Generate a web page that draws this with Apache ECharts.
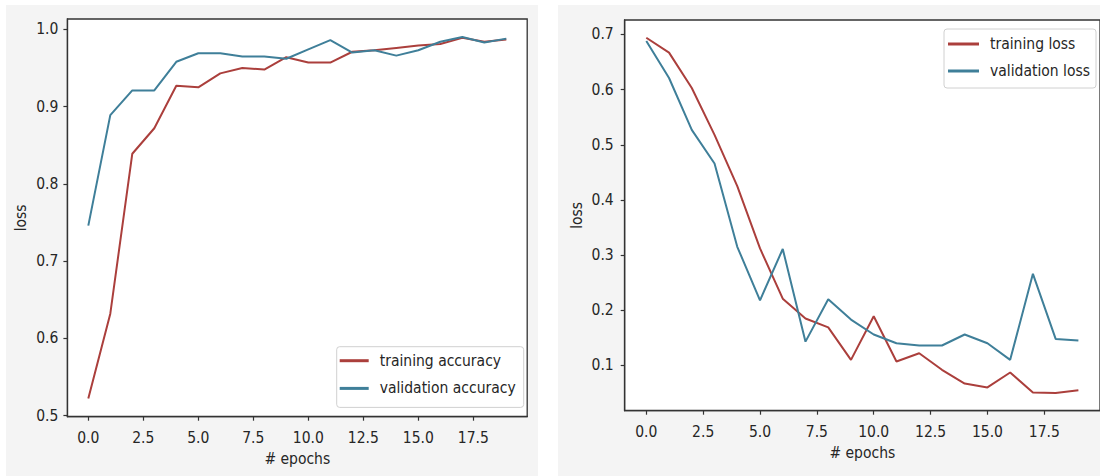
<!DOCTYPE html>
<html>
<head>
<meta charset="utf-8">
<script src="https://cdn.jsdelivr.net/npm/echarts@6/dist/echarts.min.js"></script>
<style>
  html, body { margin: 0; padding: 0; background: #ffffff; }
  #chart { width: 1100px; height: 476px; }
</style>
</head>
<body>
<div id="chart"></div>
<script>
// ---- data ----
const epochs = [0,1,2,3,4,5,6,7,8,9,10,11,12,13,14,15,16,17,18,19];
const trainAcc = [0.522,0.632,0.839,0.872,0.927,0.925,0.943,0.950,0.948,0.964,0.957,0.957,0.971,0.973,0.976,0.979,0.981,0.989,0.984,0.987];
const valAcc   = [0.746,0.889,0.921,0.921,0.958,0.969,0.969,0.965,0.965,0.962,0.974,0.986,0.970,0.973,0.966,0.973,0.984,0.990,0.983,0.988];
const trainLoss = [0.694,0.667,0.603,0.518,0.425,0.312,0.221,0.185,0.169,0.110,0.189,0.107,0.122,0.092,0.067,0.060,0.087,0.051,0.050,0.055];
const valLoss   = [0.688,0.621,0.527,0.466,0.315,0.218,0.311,0.143,0.220,0.183,0.156,0.140,0.136,0.136,0.156,0.140,0.110,0.266,0.148,0.145];
const xTicks = [0,2.5,5,7.5,10,12.5,15,17.5];
const accTicks = [0.5,0.6,0.7,0.8,0.9,1.0];
const lossTicks = [0.1,0.2,0.3,0.4,0.5,0.6,0.7];
const seriesNames = ['training accuracy','validation accuracy','training loss','validation loss'];
const xLabel = '# epochs';
const yLabel = 'loss';

// ---- styles ----
const RED = '#ab3f3c';
const BLUE = '#3f7f99';
const INK = '#262626';
const FONT = "'DejaVu Sans Condensed', 'Liberation Sans Narrow', 'DejaVu Sans', sans-serif";
const FS = 15.5;

function pairs(ys) { return epochs.map((e, i) => [e, ys[i]]); }
const fmt1 = v => Number(v).toFixed(1);

function xAxisCfg(gridIndex, gap, margin) {
  return {
    type: 'value', gridIndex, min: -0.95, max: 19.95,
    name: xLabel, nameLocation: 'middle', nameGap: gap,
    nameTextStyle: { color: INK, fontFamily: FONT, fontSize: FS },
    axisLine: { show: true, onZero: false, lineStyle: { color: '#333', width: 1.3 } },
    axisTick: { show: true, inside: false, length: 4, customValues: xTicks, lineStyle: { color: '#333', width: 1.2 } },
    axisLabel: { customValues: xTicks, formatter: fmt1, color: INK, fontFamily: FONT, fontSize: FS, margin },
    splitLine: { show: false }
  };
}
function yAxisCfg(gridIndex, min, max, ticks, gap, margin) {
  return {
    type: 'value', gridIndex, min, max,
    name: yLabel, nameLocation: 'middle', nameGap: gap,
    nameTextStyle: { color: INK, fontFamily: FONT, fontSize: FS },
    axisLine: { show: true, onZero: false, lineStyle: { color: '#333', width: 1.3 } },
    axisTick: { show: true, inside: false, length: 4, customValues: ticks, lineStyle: { color: '#333', width: 1.2 } },
    axisLabel: { customValues: ticks, formatter: fmt1, color: INK, fontFamily: FONT, fontSize: FS, margin },
    splitLine: { show: false }
  };
}
function lineSeries(name, data, color, xi, yi) {
  return {
    type: 'line', name, data, xAxisIndex: xi, yAxisIndex: yi,
    showSymbol: false, symbol: 'none', smooth: false,
    lineStyle: { color, width: 2 }, itemStyle: { color },
    animation: false, silent: true
  };
}
function legendCfg(names, left, top, padding, itemWidth, gap) {
  return {
    data: names, orient: 'vertical', left, top, padding,
    itemWidth, itemHeight: 3, itemGap: gap, icon: 'rect',
    backgroundColor: '#ffffff', borderColor: '#d0d0d0', borderWidth: 1, borderRadius: 3,
    textStyle: { color: INK, fontFamily: FONT, fontSize: FS, lineHeight: 16, padding: [0, 0, 0, 6] },
    selectedMode: false
  };
}

const chart = echarts.init(document.getElementById('chart'), null, { renderer: 'svg', width: 1100, height: 476 });
chart.setOption({
  animation: false,
  backgroundColor: '#ffffff',
  graphic: [
    { type: 'rect', z: -10, silent: true, shape: { x: 6, y: 5, width: 532, height: 471 }, style: { fill: '#f4f4f4' } },
    { type: 'rect', z: -10, silent: true, shape: { x: 558, y: 5, width: 542, height: 471 }, style: { fill: '#f4f4f4' } }
  ],
  grid: [
    { left: 67.4, top: 19, width: 459.8, height: 397.7, show: true, backgroundColor: '#ffffff', borderColor: '#333', borderWidth: 1.3 },
    { left: 624.7, top: 20, width: 484.8, height: 390.7, show: true, backgroundColor: '#ffffff', borderColor: '#333', borderWidth: 1.3 }
  ],
  xAxis: [ xAxisCfg(0, 33, 13), xAxisCfg(1, 33, 13) ],
  yAxis: [
    yAxisCfg(0, 0.4986, 1.0134, accTicks, 38, 9),
    yAxisCfg(1, 0.0178, 0.7262, lossTicks, 40, 11)
  ],
  legend: [
    legendCfg([seriesNames[0], seriesNames[1]], 336.7, 346.7, [6, 8, 11, 3], 29, 11.7),
    legendCfg([seriesNames[2], seriesNames[3]], 944, 29, [7, 6, 9, 4], 31, 11)
  ],
  series: [
    lineSeries(seriesNames[0], pairs(trainAcc), RED, 0, 0),
    lineSeries(seriesNames[1], pairs(valAcc), BLUE, 0, 0),
    lineSeries(seriesNames[2], pairs(trainLoss), RED, 1, 1),
    lineSeries(seriesNames[3], pairs(valLoss), BLUE, 1, 1)
  ]
});
</script>
</body>
</html>
